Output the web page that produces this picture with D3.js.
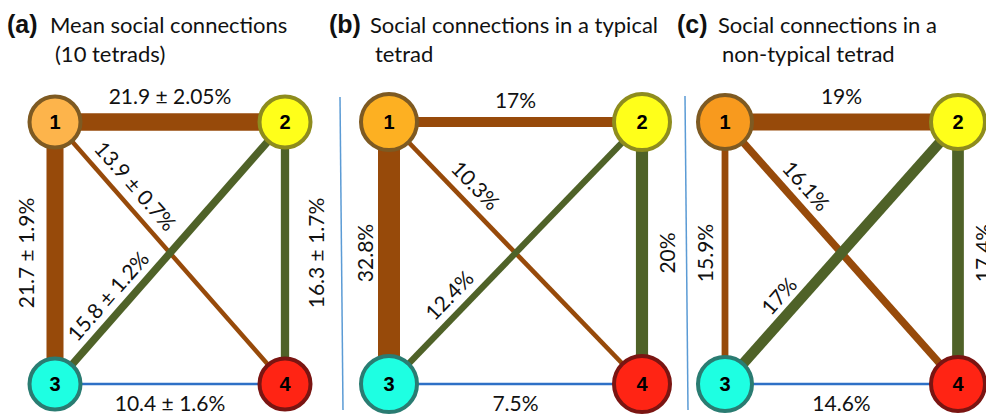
<!DOCTYPE html>
<html>
<head>
<meta charset="utf-8">
<script src="https://cdn.jsdelivr.net/npm/d3@7"></script>
<style>
  html, body { margin: 0; padding: 0; background: #fff; }
  svg { display: block; }
</style>
</head>
<body>
<svg id="chart" width="986" height="415"></svg>
<script>
// ---- data ----
const panelLetters = ["(a)", "(b)", "(c)"];
const titleLine1 = ["Mean social connections", "Social connections in a typical", "Social connections in a"];
const titleLine2 = ["(10 tetrads)", "tetrad", "non-typical tetrad"];

const nodeIds = [1, 2, 3, 4];
// edges in order: 1-2, 1-3, 1-4, 2-3, 2-4, 3-4
const edgeSources = [1, 1, 1, 2, 2, 3];
const edgeTargets = [2, 3, 4, 3, 4, 4];

const meanValues = [21.9, 21.7, 13.9, 15.8, 16.3, 10.4];
const meanErrors = [2.05, 1.9, 0.7, 1.2, 1.7, 1.6];
const typicalValues = [17, 32.8, 10.3, 12.4, 20, 7.5];
const nonTypicalValues = [19, 15.9, 16.1, 17, 17.4, 14.6];

// ---- layout & style ----
const svg = d3.select("#chart");

const nodeCol = {1: 0, 2: 1, 3: 0, 4: 1};
const nodeRow = {1: 0, 2: 0, 3: 1, 4: 1};

const panels = [
  { values: meanValues, errors: meanErrors, xr: [55, 285], r: 27.5,
    node1: "#FDB44B", widthDomain: [10.4, 13, 22], widthRange: [2.5, 3, 17.5],
    sideOffsets: [30, 30], letterX: 7, titleX: 50, title2X: 55 },
  { values: typicalValues, errors: null, xr: [389, 642], r: 30,
    node1: "#FDB022", widthDomain: [7.5, 32.8], widthRange: [2.5, 22],
    sideOffsets: [25, 24], letterX: 329, titleX: 370, title2X: 375 },
  { values: nonTypicalValues, errors: null, xr: [725, 958], r: 29,
    node1: "#F89A1E", widthDomain: [14.6, 19], widthRange: [2.5, 17],
    sideOffsets: [21, 24], letterX: 677, titleX: 718, title2X: 722 }
];

const y = d3.scaleLinear().domain([0, 1]).range([122, 384]);

const edgeColor = {1: "#974A0A", 2: "#4F6228", 3: "#2E70C6"};
const nodeFill = {2: "#FFFF1A", 3: "#1EFFE2", 4: "#FF2414"};
const nodeStroke = {1: "#7E5A22", 2: "#8E8C1E", 3: "#2A7C72", 4: "#7A1512"};

const titleFont = "Lato, 'Open Sans', sans-serif";
const labelFont = "Lato, 'Open Sans', sans-serif";

// thin separators between panels
const sepData = [[340, 97, 343, 410], [685, 96, 688, 410]];
svg.selectAll("line.sep").data(sepData).join("line")
  .attr("class", "sep")
  .attr("x1", d => d[0]).attr("y1", d => d[1])
  .attr("x2", d => d[2]).attr("y2", d => d[3])
  .attr("stroke", "#5B9BD5").attr("stroke-width", 1.5);

const fmt = v => (Math.round(v * 10) / 10).toString();

panels.forEach((p, pi) => {
  const g = svg.append("g");
  const x = d3.scaleLinear().domain([0, 1]).range(p.xr);
  const wScale = d3.scaleLinear().domain(p.widthDomain).range(p.widthRange).clamp(true);
  const pos = id => [x(nodeCol[id]), y(nodeRow[id])];

  // titles
  const t = g.append("text").attr("x", p.letterX).attr("y", 33)
    .attr("font-family", titleFont).attr("font-size", 22).attr("fill", "#111");
  t.append("tspan").attr("font-family", "'Liberation Sans', Arial, sans-serif")
    .attr("font-weight", "bold").attr("font-size", 25).text(panelLetters[pi]);
  t.append("tspan").attr("x", p.titleX).text(titleLine1[pi]);
  g.append("text").attr("x", p.title2X).attr("y", 62)
    .attr("font-family", titleFont).attr("font-size", 22).attr("fill", "#111")
    .text(titleLine2[pi]);

  const edges = p.values.map((v, i) => ({
    s: edgeSources[i], t: edgeTargets[i], v,
    err: p.errors ? p.errors[i] : null
  }));

  // links
  g.selectAll("line.edge").data(edges).join("line")
    .attr("class", "edge")
    .attr("x1", d => pos(d.s)[0]).attr("y1", d => pos(d.s)[1])
    .attr("x2", d => pos(d.t)[0]).attr("y2", d => pos(d.t)[1])
    .attr("stroke", d => edgeColor[d.s])
    .attr("stroke-width", d => wScale(d.v));

  // link labels
  edges.forEach(d => {
    const a = pos(d.s), b = pos(d.t);
    const w = wScale(d.v);
    let cx, cy, ang;
    if (d.s === 1 && d.t === 2) {           // top edge
      cx = (a[0] + b[0]) / 2; cy = a[1] - w / 2 - 18; ang = 0;
    } else if (d.s === 3 && d.t === 4) {    // bottom edge
      cx = (a[0] + b[0]) / 2; cy = a[1] + 18; ang = 0;
    } else if (d.s === 1 && d.t === 3) {    // left edge
      cx = a[0] - p.sideOffsets[0]; cy = (a[1] + b[1]) / 2; ang = -90;
    } else if (d.s === 2 && d.t === 4) {    // right edge
      cx = a[0] + p.sideOffsets[1]; cy = (a[1] + b[1]) / 2; ang = -90;
    } else {                                // diagonals, read left to right
      const from = d.s === 2 ? b : a, to = d.s === 2 ? a : b;
      const dx = to[0] - from[0], dy = to[1] - from[1];
      const len = Math.hypot(dx, dy);
      const ux = dx / len, uy = dy / len;
      const tt = 0.29, off = 19;
      cx = from[0] + dx * tt + uy * off;
      cy = from[1] + dy * tt - ux * off;
      ang = Math.atan2(dy, dx) * 180 / Math.PI;
    }
    const txt = d.err != null ? `${fmt(d.v)} \u00B1 ${d.err}%` : `${fmt(d.v)}%`;
    g.append("text")
      .attr("transform", `translate(${cx},${cy}) rotate(${ang})`)
      .attr("text-anchor", "middle").attr("dominant-baseline", "central")
      .attr("font-family", labelFont).attr("font-size", 21).attr("fill", "#111")
      .text(txt);
  });

  // nodes
  const ng = g.selectAll("g.node").data(nodeIds).join("g")
    .attr("class", "node")
    .attr("transform", d => `translate(${pos(d)[0]},${pos(d)[1]})`);
  ng.append("circle")
    .attr("r", p.r - 2)
    .attr("fill", d => d === 1 ? p.node1 : nodeFill[d])
    .attr("stroke", d => nodeStroke[d]).attr("stroke-width", 4);
  ng.append("text")
    .attr("text-anchor", "middle").attr("dominant-baseline", "central")
    .attr("font-family", "'Liberation Sans', Arial, sans-serif")
    .attr("font-weight", "bold").attr("font-size", 20).attr("fill", "#000")
    .text(d => d);
});
</script>
</body>
</html>
